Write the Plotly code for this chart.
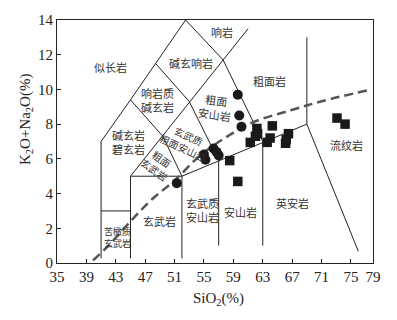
import plotly.graph_objects as go

# TAS field boundaries (SiO2, K2O+Na2O), None splits the segments
field_x = [41, 41, 45, 48.4, 52.5, None,
           41, 45, None,
           45, 45, 61, None,
           45, 52, 69, None,
           49.4, 52, 52, None,
           45, 49.4, None,
           48.4, 53, 57, 57, None,
           52.5, 57.6, 63, 63, None,
           69, 69, 76]
field_y = [0.27, 7, 9.4, 11.5, 14, None,
           3, 3, None,
           0.27, 5, 13.5, None,
           5, 5, 8, None,
           7.3, 5, 0.27, None,
           9.4, 7.3, None,
           11.5, 9.3, 5.9, 1.0, None,
           14, 11.7, 7, 1.0, None,
           13, 8, 0.68]

# alkaline / subalkaline divide (dashed)
divide_x = [39.9, 42, 45, 48, 51, 53.7, 55.4, 58.4, 61.6, 66.8, 71.3, 77.3]
divide_y = [0.15, 1.0, 2.4, 3.7, 4.75, 5.9, 6.5, 7.35, 8.1, 8.8, 9.35, 9.95]

# samples
circle_sio2 = [51.3, 55.0, 55.2, 56.3, 56.7, 57.0, 59.6, 59.8, 60.1]
circle_alk = [4.6, 6.25, 5.95, 6.6, 6.4, 6.2, 9.7, 8.5, 7.85]
square_sio2 = [58.5, 59.6, 61.3, 62.0, 62.2, 62.3, 63.6, 64.0, 64.3, 66.5, 66.1, 66.2, 73.1, 74.2]
square_alk = [5.9, 4.7, 6.95, 7.3, 7.75, 7.45, 6.95, 7.2, 7.9, 7.45, 6.9, 7.1, 8.35, 8.0]

# field names: text, x, y, angle, size
field_names = ['似长岩', '碱玄响岩', '响岩', '响岩质<br>碱玄岩', '粗面岩', '粗面<br>安山岩',
               '玄武质<br>粗面安山岩', '碱玄岩<br>碧玄岩', '粗面<br>玄武岩', '玄武岩',
               '苦橄质<br>玄武岩', '玄武质<br>安山岩', '安山岩', '英安岩', '流纹岩']
name_x = [42.3, 53.2, 57.4, 48.7, 63.85, 56.6, 52.6, 44.7, 48.7, 48.95, 43.2, 54.8, 60.0, 67.0, 74.4]
name_y = [11.3, 11.55, 13.3, 9.37, 10.5, 9.0, 7.0, 7.0, 5.7, 2.4, 1.48, 3.06, 2.93, 3.44, 6.77]
name_angle = [0, 0, 0, 0, 0, 8, 25, 0, 35, 0, 0, 0, 0, 0, 0]
name_size = [11, 11, 11, 11, 11, 11, 10, 11, 10, 11, 9, 11, 11, 11, 11]

x_ticks = [35, 39, 43, 47, 51, 55, 59, 63, 67, 71, 75, 78]
x_ticktext = ['35', '39', '43', '47', '51', '55', '59', '63', '67', '71', '75', '79']
y_ticks = [0, 2, 4, 6, 8, 10, 12, 14]

CJK = 'Noto Sans CJK SC'
SERIF = 'Liberation Serif'

fig = go.Figure()

fig.add_trace(go.Scatter(x=field_x, y=field_y, mode='lines',
                         line=dict(color='#222', width=1), hoverinfo='skip'))
fig.add_trace(go.Scatter(x=divide_x, y=divide_y, mode='lines', line_shape='spline',
                         line=dict(color='#555', width=2.5, dash='9px,5px'), hoverinfo='skip'))
fig.add_trace(go.Scatter(x=circle_sio2, y=circle_alk, mode='markers',
                         marker=dict(symbol='circle', size=10, color='#1a1a1a')))
fig.add_trace(go.Scatter(x=square_sio2, y=square_alk, mode='markers',
                         marker=dict(symbol='square', size=9.5, color='#1a1a1a')))

for t, x, y, a, s in zip(field_names, name_x, name_y, name_angle, name_size):
    fig.add_annotation(x=x, y=y, text=t, showarrow=False, textangle=a,
                       font=dict(family=CJK, size=s, color='#333'))

fig.add_annotation(xref='paper', yref='paper', x=0.51, y=-0.15, xanchor='center', yanchor='middle',
                   text='SiO<sub>2</sub>(%)', showarrow=False,
                   font=dict(family=SERIF, size=15, color='#222'))
fig.add_annotation(xref='paper', yref='paper', x=-0.1, y=0.59, xanchor='center', yanchor='middle',
                   textangle=-90, text='K<sub>2</sub>O+Na<sub>2</sub>O(%)', showarrow=False,
                   font=dict(family=SERIF, size=15, color='#222'))

axis_style = dict(showline=True, mirror=True, linecolor='#222', linewidth=1,
                  ticks='inside', ticklen=4, tickcolor='#222', showgrid=False,
                  zeroline=False, tickfont=dict(family=SERIF, size=15, color='#222'))

fig.update_xaxes(range=[35, 78], tickvals=x_ticks, ticktext=x_ticktext, **axis_style)
fig.update_yaxes(range=[0, 14], tickvals=y_ticks, **axis_style)

fig.update_layout(
    width=397, height=320,
    margin=dict(l=57, r=24, t=15, b=57),
    paper_bgcolor='white', plot_bgcolor='white',
    showlegend=False,
    hovermode=False,
)

# drop the page's default body margin so the figure sits at the window corner
fig.write_html('out.html', config={'displayModeBar': False},
               post_script="document.body.style.margin='0';")
